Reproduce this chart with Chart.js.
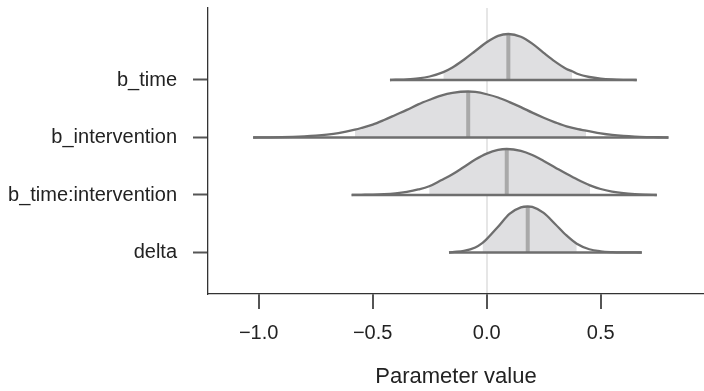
<!DOCTYPE html>
<html>
<head>
<meta charset="utf-8">
<script src="https://cdn.jsdelivr.net/npm/chart.js@4.4.1/dist/chart.umd.min.js"></script>
<style>
  html, body { margin: 0; padding: 0; background: #fff; }
  #wrap { width: 704px; height: 391px; }
</style>
</head>
<body>
<div id="wrap"><canvas id="areas" width="704" height="391"></canvas></div>
<script>
// parameters, top row first
var paramNames = ["b_time", "b_intervention", "b_time:intervention", "delta"];

// posterior density curves (x = value, density scaled so the peak = 1)
var bTimeX = [-0.424, -0.40, -0.35, -0.30, -0.25, -0.19, -0.15, -0.10, -0.05, 0.00, 0.05, 0.095, 0.15, 0.20, 0.25, 0.30, 0.35, 0.375, 0.40, 0.45, 0.50, 0.55, 0.60, 0.658];
var bTimeDens = [0, 0.005, 0.014, 0.034, 0.076, 0.17, 0.27, 0.44, 0.63, 0.82, 0.96, 1.0, 0.94, 0.79, 0.59, 0.40, 0.24, 0.19, 0.13, 0.065, 0.029, 0.011, 0.003, 0];

var bInterX = [-1.024, -0.95, -0.90, -0.85, -0.80, -0.75, -0.70, -0.65, -0.578, -0.55, -0.50, -0.45, -0.40, -0.35, -0.30, -0.25, -0.20, -0.15, -0.081, -0.05, 0.00, 0.05, 0.10, 0.15, 0.20, 0.25, 0.30, 0.35, 0.40, 0.436, 0.50, 0.55, 0.60, 0.65, 0.70, 0.75, 0.797];
var bInterDens = [0, 0.004, 0.008, 0.014, 0.024, 0.039, 0.062, 0.096, 0.17, 0.206, 0.28, 0.38, 0.49, 0.60, 0.72, 0.82, 0.91, 0.97, 1.0, 0.99, 0.94, 0.87, 0.77, 0.66, 0.54, 0.43, 0.33, 0.24, 0.18, 0.15, 0.09, 0.055, 0.032, 0.018, 0.010, 0.005, 0];

var bTimeInterX = [-0.592, -0.55, -0.50, -0.45, -0.40, -0.35, -0.30, -0.252, -0.20, -0.15, -0.10, -0.05, 0.00, 0.05, 0.088, 0.15, 0.20, 0.25, 0.30, 0.35, 0.40, 0.453, 0.50, 0.55, 0.60, 0.65, 0.70, 0.746];
var bTimeInterDens = [0, 0.0035, 0.008, 0.018, 0.037, 0.07, 0.12, 0.19, 0.32, 0.45, 0.61, 0.77, 0.90, 0.98, 1.0, 0.96, 0.87, 0.74, 0.60, 0.46, 0.33, 0.21, 0.13, 0.075, 0.04, 0.02, 0.008, 0];

var deltaX = [-0.165, -0.15, -0.10, -0.05, -0.018, 0.00, 0.05, 0.10, 0.15, 0.18, 0.20, 0.25, 0.30, 0.35, 0.395, 0.45, 0.50, 0.55, 0.60, 0.68];
var deltaDens = [0, 0.01, 0.035, 0.11, 0.21, 0.29, 0.56, 0.84, 0.98, 1.0, 0.99, 0.86, 0.62, 0.37, 0.19, 0.07, 0.025, 0.008, 0.002, 0];

var medians = [0.095, -0.081, 0.088, 0.18];
var innerLow = [-0.19, -0.578, -0.252, -0.018];
var innerHigh = [0.375, 0.436, 0.453, 0.395];

var xTicks = [-1.0, -0.5, 0.0, 0.5];

var curveX = [bTimeX, bInterX, bTimeInterX, deltaX];
var curveDens = [bTimeDens, bInterDens, bTimeInterDens, deltaDens];

var ridgeScale = 0.8;   // height of a peak in row units
var outlineCol = '#6e6e6e';
var fillCol = '#dfdfe1';
var medianCol = '#a9a9a9';

var datasets = [];
paramNames.forEach(function (name, i) {
    var base = paramNames.length - i;
    var xs = curveX[i], ds = curveDens[i];
    var pts = xs.map(function (x, j) { return { x: x, y: base + ds[j] * ridgeScale }; });
    var inner = pts.filter(function (p) { return p.x >= innerLow[i] && p.x <= innerHigh[i]; });
    var mIdx = xs.indexOf(medians[i]);

    // shaded inner interval
    datasets.push({
        data: inner, order: 4, borderWidth: 0, pointRadius: 0,
        backgroundColor: fillCol, fill: { value: base },
        cubicInterpolationMode: 'monotone'
    });
    // median
    datasets.push({
        data: [{ x: medians[i], y: base }, { x: medians[i], y: base + ds[mIdx] * ridgeScale }],
        order: 3, borderColor: medianCol, borderWidth: 4, pointRadius: 0, fill: false
    });
    // outline
    datasets.push({
        data: pts, order: 2, borderColor: outlineCol, borderWidth: 2.3, pointRadius: 0,
        fill: false, cubicInterpolationMode: 'monotone'
    });
    // baseline
    datasets.push({
        data: [{ x: xs[0], y: base }, { x: xs[xs.length - 1], y: base }],
        order: 1, borderColor: outlineCol, borderWidth: 2.3, pointRadius: 0, fill: false
    });
});

var textCol = '#222';
var fontFamily = 'Liberation Sans, Arial, sans-serif';

new Chart(document.getElementById('areas'), {
    type: 'line',
    data: { datasets: datasets },
    options: {
        responsive: false,
        animation: false,
        layout: { padding: { top: 8, right: 0, bottom: 0, left: 0 } },
        plugins: { legend: { display: false }, tooltip: { enabled: false } },
        scales: {
            x: {
                type: 'linear',
                min: -1.222,
                max: 0.953,
                afterBuildTicks: function (scale) {
                    scale.ticks = xTicks.map(function (v) { return { value: v }; });
                },
                afterFit: function (scale) {
                    scale.height = 97;
                    scale.paddingLeft = 0;
                    scale.paddingRight = 0;
                },
                border: { display: true, color: '#333', width: 1.3 },
                grid: {
                    drawOnChartArea: true,
                    color: function (ctx) {
                        return ctx.tick && ctx.tick.value === 0 ? '#e6e6e6' : 'rgba(0,0,0,0)';
                    },
                    lineWidth: 2,
                    tickLength: 15,
                    tickColor: '#555',
                    tickWidth: 2
                },
                ticks: {
                    padding: 12,
                    color: textCol,
                    font: { family: fontFamily, size: 20 },
                    maxRotation: 0,
                    callback: function (v) { return Number(v).toFixed(1).replace('-', '\u2212'); }
                },
                title: {
                    display: true,
                    text: 'Parameter value',
                    color: textCol,
                    font: { family: fontFamily, size: 22 },
                    padding: { top: 0, bottom: 1 }
                }
            },
            y: {
                type: 'linear',
                min: 0.278,
                max: 5.252,
                afterBuildTicks: function (scale) {
                    scale.ticks = [1, 2, 3, 4].map(function (v) { return { value: v }; });
                },
                afterFit: function (scale) {
                    scale.width = 208;
                    scale.paddingTop = 0;
                    scale.paddingBottom = 0;
                },
                border: { display: true, color: '#333', width: 1.3 },
                grid: {
                    drawOnChartArea: false,
                    tickLength: 15,
                    tickColor: '#555',
                    tickWidth: 2
                },
                ticks: {
                    padding: 16,
                    color: textCol,
                    font: { family: fontFamily, size: 20 },
                    callback: function (v) { return paramNames[paramNames.length - v]; }
                }
            }
        }
    }
});
</script>
</body>
</html>
